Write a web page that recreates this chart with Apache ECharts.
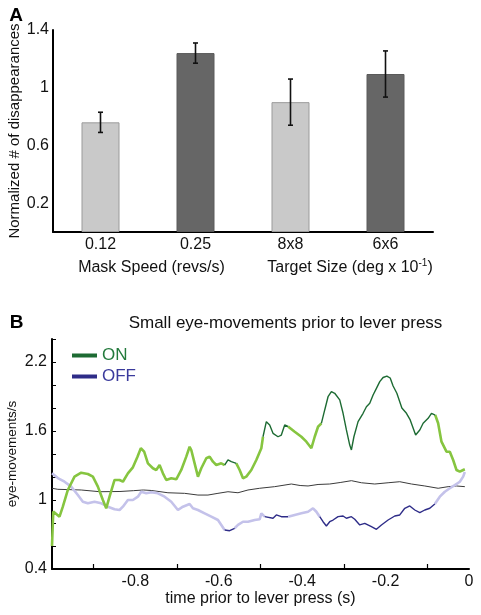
<!DOCTYPE html>
<html><head><meta charset="utf-8">
<script src="https://cdn.jsdelivr.net/npm/echarts@6/dist/echarts.min.js"></script>
<style>html,body{margin:0;padding:0;background:#fff}#c{width:481px;height:615px}</style>
</head><body><div id="c"></div>
<script>
// ---------- Panel A data ----------
const barCategories = ['0.12', '0.25', '8x8', '6x6'];
const barValues = [0.76, 1.24, 0.90, 1.095];
const barErrors = [0.07, 0.07, 0.16, 0.16];
const barShades = ['light', 'dark', 'light', 'dark'];
const groupLabels = ['Mask Speed (revs/s)', 'Target Size (deg x 10{sup|-1})'];
const panelAYLabels = [0.2, 0.6, 1, 1.4];

// ---------- Panel B data ----------
const panelBTitle = 'Small eye-movements prior to lever press';
const panelBYLabels = [0.4, 1, 1.6, 2.2];
const panelBXLabels = [-0.8, -0.6, -0.4, -0.2, 0];
const onData = [
  [-1.000, 0.60], [-0.997, 0.90], [-0.982, 0.855], [-0.974, 0.942], [-0.962, 1.087], [-0.946, 1.203],
  [-0.930, 1.237], [-0.914, 1.226], [-0.902, 1.203], [-0.890, 1.116], [-0.878, 1.000], [-0.870, 0.928],
  [-0.862, 1.029], [-0.850, 1.174], [-0.838, 1.174], [-0.830, 1.159], [-0.818, 1.232], [-0.806, 1.284],
  [-0.795, 1.377], [-0.787, 1.450], [-0.779, 1.420], [-0.770, 1.319], [-0.758, 1.276], [-0.750, 1.261],
  [-0.742, 1.304], [-0.734, 1.232], [-0.726, 1.174], [-0.714, 1.189], [-0.702, 1.180], [-0.690, 1.261],
  [-0.678, 1.377], [-0.670, 1.463], [-0.666, 1.435], [-0.658, 1.319], [-0.650, 1.203], [-0.642, 1.276],
  [-0.630, 1.363], [-0.622, 1.377], [-0.614, 1.333], [-0.606, 1.304], [-0.594, 1.319], [-0.586, 1.304],
  [-0.578, 1.348], [-0.570, 1.333], [-0.558, 1.319], [-0.550, 1.261], [-0.542, 1.189], [-0.534, 1.203],
  [-0.522, 1.261], [-0.510, 1.348], [-0.498, 1.450], [-0.494, 1.550], [-0.486, 1.681], [-0.478, 1.652],
  [-0.470, 1.580], [-0.458, 1.550], [-0.450, 1.565], [-0.442, 1.652], [-0.434, 1.640], [-0.418, 1.594],
  [-0.402, 1.550], [-0.390, 1.507], [-0.378, 1.450], [-0.370, 1.550], [-0.362, 1.637], [-0.354, 1.667],
  [-0.346, 1.783], [-0.338, 1.898], [-0.330, 1.942], [-0.322, 1.928], [-0.310, 1.870], [-0.302, 1.754],
  [-0.294, 1.609], [-0.286, 1.478], [-0.282, 1.435], [-0.276, 1.550], [-0.266, 1.681], [-0.254, 1.754],
  [-0.246, 1.811], [-0.238, 1.841], [-0.230, 1.913], [-0.222, 1.971], [-0.214, 2.029], [-0.206, 2.065],
  [-0.197, 2.078], [-0.189, 2.061], [-0.182, 1.991], [-0.173, 1.928], [-0.161, 1.800], [-0.150, 1.754],
  [-0.141, 1.696], [-0.128, 1.565], [-0.118, 1.609], [-0.110, 1.667], [-0.098, 1.710], [-0.090, 1.754],
  [-0.081, 1.739], [-0.074, 1.667], [-0.066, 1.507], [-0.054, 1.420], [-0.046, 1.420], [-0.038, 1.348],
  [-0.030, 1.261], [-0.022, 1.246], [-0.014, 1.261], [-0.010, 1.267]
];
const offData = [
  [-1.000, 1.232], [-0.986, 1.191], [-0.970, 1.159], [-0.954, 1.116], [-0.938, 1.043], [-0.926, 0.985],
  [-0.914, 0.971], [-0.898, 0.985], [-0.882, 0.971], [-0.866, 0.942], [-0.850, 0.919], [-0.838, 0.913],
  [-0.830, 0.942], [-0.818, 1.000], [-0.806, 1.000], [-0.794, 1.029], [-0.786, 1.072], [-0.774, 1.058],
  [-0.762, 1.067], [-0.746, 1.058], [-0.730, 1.029], [-0.714, 0.985], [-0.698, 0.913], [-0.686, 0.942],
  [-0.670, 0.965], [-0.662, 0.928], [-0.650, 0.913], [-0.634, 0.884], [-0.618, 0.855], [-0.602, 0.826],
  [-0.594, 0.783], [-0.586, 0.739], [-0.574, 0.733], [-0.562, 0.754], [-0.554, 0.783], [-0.542, 0.811],
  [-0.530, 0.811], [-0.514, 0.826], [-0.502, 0.832], [-0.498, 0.884], [-0.490, 0.855], [-0.470, 0.841],
  [-0.462, 0.870], [-0.450, 0.855], [-0.434, 0.855], [-0.418, 0.870], [-0.402, 0.884], [-0.386, 0.898],
  [-0.374, 0.928], [-0.366, 0.898], [-0.358, 0.855], [-0.350, 0.811], [-0.342, 0.774], [-0.334, 0.811],
  [-0.326, 0.826], [-0.314, 0.855], [-0.302, 0.861], [-0.294, 0.841], [-0.282, 0.855], [-0.274, 0.832],
  [-0.262, 0.783], [-0.250, 0.797], [-0.234, 0.768], [-0.222, 0.745], [-0.210, 0.783], [-0.194, 0.826],
  [-0.178, 0.861], [-0.166, 0.870], [-0.154, 0.928], [-0.142, 0.948], [-0.130, 0.913], [-0.118, 0.890],
  [-0.106, 0.913], [-0.094, 0.928], [-0.082, 0.965], [-0.070, 1.029], [-0.058, 1.072], [-0.046, 1.102],
  [-0.034, 1.130], [-0.022, 1.159], [-0.014, 1.203], [-0.010, 1.243]
];
const baselineData = [
  [-1.000, 1.102], [-0.986, 1.093], [-0.930, 1.087], [-0.885, 1.072], [-0.837, 1.074], [-0.805, 1.081],
  [-0.781, 1.087], [-0.762, 1.083], [-0.722, 1.063], [-0.682, 1.058], [-0.650, 1.043], [-0.626, 1.043],
  [-0.602, 1.058], [-0.578, 1.072], [-0.554, 1.063], [-0.530, 1.087], [-0.502, 1.102], [-0.466, 1.116],
  [-0.426, 1.139], [-0.405, 1.126], [-0.386, 1.122], [-0.362, 1.135], [-0.334, 1.139], [-0.309, 1.152],
  [-0.282, 1.168], [-0.258, 1.150], [-0.226, 1.139], [-0.194, 1.150], [-0.166, 1.159], [-0.138, 1.139],
  [-0.106, 1.122], [-0.074, 1.102], [-0.050, 1.116], [-0.030, 1.122], [-0.010, 1.116]
];
// time windows drawn in the dark (significant) colour
const sigRanges = [[-0.588, -0.556], [-0.497, -0.433], [-0.358, -0.077]];

// ---------- helpers ----------
const FONT = 'Liberation Sans, Arial, Helvetica, sans-serif';
function isSig(t) { return sigRanges.some(r => t >= r[0] && t <= r[1]); }
function splitBySig(points) {
  const sig = points.map(p => isSig(p[0]));
  const segDark = points.map((p, i) => i > 0 && sig[i - 1] && sig[i]);
  const dark = [], light = [];
  points.forEach((p, i) => {
    const a = i > 0 ? segDark[i] : null;
    const b = i < points.length - 1 ? segDark[i + 1] : null;
    const inDark = a === true || b === true;
    const inLight = a === false || b === false;
    dark.push(inDark ? p : [p[0], null]);
    light.push(inLight ? p : [p[0], null]);
  });
  return { dark, light };
}
function near(v, list) { return list.some(x => Math.abs(x - v) < 1e-6); }
function fmt(v) { return String(Math.round(v * 10) / 10); }

const onSplit = splitBySig(onData);
const offSplit = splitBySig(offData);

const colors = {
  barLight: '#c9c9c9', barLightBorder: '#9b9b9b',
  barDark: '#666666', barDarkBorder: '#5a5a5a',
  onLight: '#86c540', onDark: '#1d6b33',
  offLight: '#c4c2ea', offDark: '#2e2c88',
  base: '#3a3a3a'
};

const chart = echarts.init(document.getElementById('c'), null, { renderer: 'canvas' });

const lineBase = { type: 'line', xAxisIndex: 1, yAxisIndex: 1, showSymbol: false, symbol: 'none', connectNulls: false, animation: false, silent: true };

const option = {
  animation: false,
  textStyle: { fontFamily: FONT },
  grid: [
    { left: 53, right: 48, top: 30, bottom: 383, containLabel: false, outerBoundsMode: 'none' },
    { left: 52, right: 12, top: 339, bottom: 46, containLabel: false, outerBoundsMode: 'none' }
  ],
  xAxis: [
    {
      gridIndex: 0, type: 'category', data: barCategories,
      axisLine: { show: true, lineStyle: { color: '#000', width: 2 } },
      axisTick: { show: false },
      axisLabel: { fontSize: 16, color: '#111', margin: 5, fontFamily: FONT },
      splitLine: { show: false }
    },
    {
      gridIndex: 1, type: 'value', min: -1, max: 0, interval: 0.2,
      axisLine: { show: true, onZero: false, lineStyle: { color: '#000', width: 2 } },
      axisTick: { show: false, inside: true },
      minorTick: { show: true, splitNumber: 2, length: 5, lineStyle: { color: '#000', width: 1.2 } },
      axisLabel: { fontSize: 16, color: '#111', margin: 5, fontFamily: FONT,
        formatter: v => near(v, panelBXLabels) ? fmt(v) : '' },
      splitLine: { show: false },
      name: 'time prior to lever press (s)', nameLocation: 'middle', nameGap: 22, nameMoveOverlap: false,
      nameTextStyle: { fontSize: 16, color: '#111', fontFamily: FONT }
    }
  ],
  yAxis: [
    {
      gridIndex: 0, type: 'value', min: 0, max: 1.4, interval: 0.2,
      axisLine: { show: true, lineStyle: { color: '#000', width: 2 } },
      axisTick: { show: false },
      axisLabel: { fontSize: 16, color: '#111', margin: 4, fontFamily: FONT,
        formatter: v => near(v, panelAYLabels) ? fmt(v) : '' },
      splitLine: { show: false },
      name: 'Normalized # of disappearances', nameLocation: 'middle', nameGap: 31, nameMoveOverlap: false,
      nameTextStyle: { fontSize: 15, color: '#111', fontFamily: FONT }
    },
    {
      gridIndex: 1, type: 'value', min: 0.4, max: 2.4, interval: 0.2,
      axisLine: { show: true, onZero: false, lineStyle: { color: '#000', width: 2 } },
      axisTick: { show: true, inside: true, length: 4, lineStyle: { color: '#000', width: 1 } },
      axisLabel: { fontSize: 16, color: '#111', margin: 5, fontFamily: FONT,
        formatter: v => near(v, panelBYLabels) ? fmt(v) : '' },
      splitLine: { show: false },
      name: 'eye-movements/s', nameLocation: 'middle', nameGap: 33, nameMoveOverlap: false,
      nameTextStyle: { fontSize: 13.5, color: '#111', fontFamily: FONT }
    }
  ],
  legend: {
    orient: 'vertical', left: 67, top: 342, itemWidth: 25, itemHeight: 4, itemGap: 4,
    icon: 'rect', selectedMode: false,
    textStyle: { fontSize: 17, fontFamily: FONT },
    data: [
      { name: 'ON', itemStyle: { color: colors.onDark }, textStyle: { color: '#237a3c' } },
      { name: 'OFF', itemStyle: { color: colors.offDark }, textStyle: { color: '#3a3a9c' } }
    ]
  },
  graphic: [
    { type: 'text', x: 16, y: 16, style: { text: 'A', fontSize: 19, fontWeight: 'bold', fontFamily: FONT, fill: '#000', align: 'center', verticalAlign: 'middle' } },
    { type: 'text', x: 16.5, y: 323, style: { text: 'B', fontSize: 19, fontWeight: 'bold', fontFamily: FONT, fill: '#000', align: 'center', verticalAlign: 'middle' } },
    { type: 'text', x: 151.5, y: 268, style: { text: groupLabels[0], fontSize: 16, fontFamily: FONT, fill: '#111', align: 'center', verticalAlign: 'middle' } },
    { type: 'text', x: 350, y: 268, style: { text: groupLabels[1], fontSize: 16, fontFamily: FONT, fill: '#111', align: 'center', verticalAlign: 'middle',
        rich: { sup: { fontSize: 10, fontFamily: FONT, fill: '#111', padding: [0, 0, 9, 0] } } } },
    { type: 'text', x: 285.5, y: 323, style: { text: panelBTitle, fontSize: 17, fontFamily: FONT, fill: '#111', align: 'center', verticalAlign: 'middle' } }
  ],
  series: [
    {
      type: 'bar', xAxisIndex: 0, yAxisIndex: 0, barWidth: 38, silent: true,
      data: barValues.map((v, i) => ({
        value: v,
        itemStyle: barShades[i] === 'light'
          ? { color: colors.barLight, borderColor: colors.barLightBorder, borderWidth: 1 }
          : { color: colors.barDark, borderColor: colors.barDarkBorder, borderWidth: 1 }
      }))
    },
    {
      type: 'custom', xAxisIndex: 0, yAxisIndex: 0, silent: true, z: 5,
      data: barValues.map((v, i) => [i, v - barErrors[i], v + barErrors[i]]),
      renderItem: (params, api) => {
        const lo = api.coord([api.value(0), api.value(1)]);
        const hi = api.coord([api.value(0), api.value(2)]);
        const hw = 2.5;
        const st = { stroke: '#111', lineWidth: 1.6 };
        return { type: 'group', children: [
          { type: 'line', shape: { x1: lo[0], y1: lo[1], x2: hi[0], y2: hi[1] }, style: st },
          { type: 'line', shape: { x1: lo[0] - hw, y1: lo[1], x2: lo[0] + hw, y2: lo[1] }, style: st },
          { type: 'line', shape: { x1: hi[0] - hw, y1: hi[1], x2: hi[0] + hw, y2: hi[1] }, style: st }
        ] };
      }
    },
    Object.assign({}, lineBase, { name: 'baseline', data: baselineData, z: 2, lineStyle: { color: colors.base, width: 1 } }),
    Object.assign({}, lineBase, { name: 'OFF', data: offSplit.light, z: 3, lineStyle: { color: colors.offLight, width: 2.6 }, itemStyle: { color: colors.offDark } }),
    Object.assign({}, lineBase, { name: 'OFF', data: offSplit.dark, z: 4, lineStyle: { color: colors.offDark, width: 1.4 }, itemStyle: { color: colors.offDark } }),
    Object.assign({}, lineBase, { name: 'ON', data: onSplit.light, z: 3, lineStyle: { color: colors.onLight, width: 2.6 }, itemStyle: { color: colors.onDark } }),
    Object.assign({}, lineBase, { name: 'ON', data: onSplit.dark, z: 4, lineStyle: { color: colors.onDark, width: 1.4 }, itemStyle: { color: colors.onDark } })
  ]
};
chart.setOption(option);
</script>
</body></html>
